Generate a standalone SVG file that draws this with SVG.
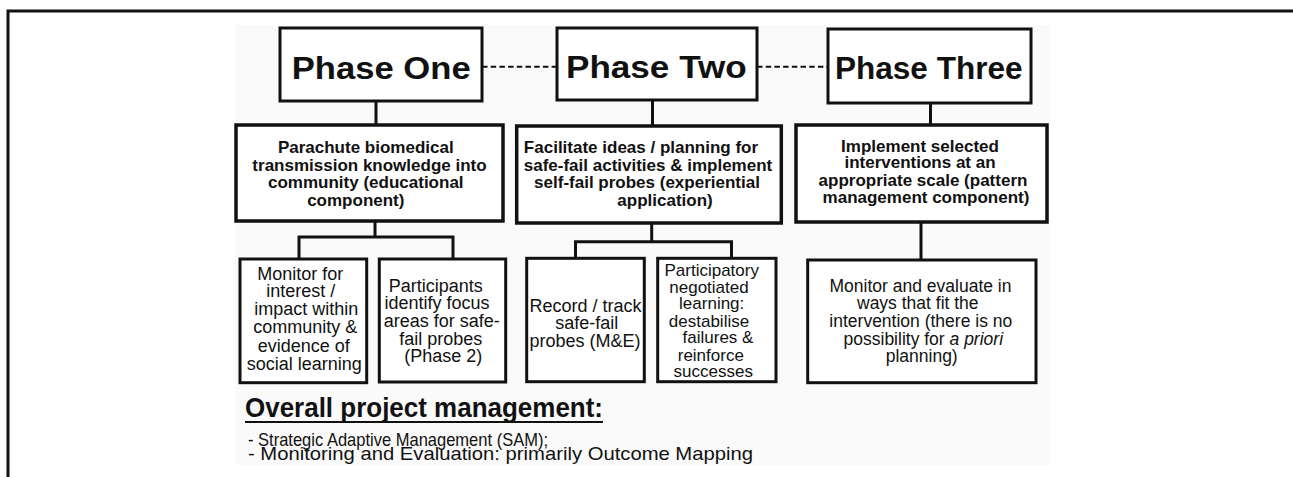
<svg xmlns="http://www.w3.org/2000/svg" width="1293" height="477" viewBox="0 0 1293 477">
<style>
.box{fill:#ffffff;stroke:#111;stroke-width:3}
.box2{fill:#ffffff;stroke:#111;stroke-width:3.5}
.ln{fill:none;stroke:#111;stroke-width:3}
.dash{fill:none;stroke:#111;stroke-width:2;stroke-dasharray:5.5 3.2}
.title{font-family:"Liberation Sans",Arial,sans-serif;font-weight:bold;font-size:32px;fill:#111}
.b{font-family:"Liberation Sans",Arial,sans-serif;font-weight:bold;font-size:17px;fill:#111;text-anchor:middle}
.r{font-family:"Liberation Sans",Arial,sans-serif;font-size:18px;fill:#111;text-anchor:middle}
.rs{font-family:"Liberation Sans",Arial,sans-serif;font-size:17px;fill:#111;text-anchor:middle}
.r2{font-family:"Liberation Sans",Arial,sans-serif;font-size:17.5px;fill:#111;text-anchor:middle}
.foot{font-family:"Liberation Sans",Arial,sans-serif;font-size:19px;fill:#111}
</style>
<rect x="0" y="0" width="1293" height="477" fill="#ffffff"/>
<rect x="235" y="25" width="815" height="440" fill="#fafafa"/>
<g id="frame">
<path class="ln" d="M8,477 V11 H1293" stroke-width="2.5"/>
</g>
<g id="connectors">
<line class="dash" x1="482" y1="66.7" x2="557" y2="66.7"/>
<line class="dash" x1="757" y1="66.7" x2="828" y2="66.7"/>
<line class="ln" x1="376" y1="101" x2="376" y2="125"/>
<line class="ln" x1="652.5" y1="100" x2="652.5" y2="126"/>
<line class="ln" x1="930.5" y1="103" x2="930.5" y2="125"/>
<path class="ln" d="M375,221 V237 M299,259 V237 H453 V259"/>
<path class="ln" d="M651.7,223 V241.7 M575.5,258 V241.7 H731.5 V258"/>
<line class="ln" x1="921" y1="222" x2="921" y2="260"/>
</g>
<g id="phase-one">
<rect class="box" x="280" y="28" width="202" height="73"/>
<text class="title" x="291.7" y="79" textLength="179" lengthAdjust="spacingAndGlyphs">Phase One</text>
</g>
<g id="phase-two">
<rect class="box" x="557" y="28" width="200" height="72"/>
<text class="title" x="566" y="77.5" textLength="180.7" lengthAdjust="spacingAndGlyphs">Phase Two</text>
</g>
<g id="phase-three">
<rect class="box" x="828" y="29" width="203" height="74"/>
<text class="title" x="835" y="78.5" textLength="187.5" lengthAdjust="spacingAndGlyphs">Phase Three</text>
</g>
<g id="educational">
<rect class="box2" x="236" y="125" width="267" height="96"/>
<text class="b" x="365.8" y="153.3">Parachute biomedical</text>
<text class="b" x="369.5" y="170.7">transmission knowledge into</text>
<text class="b" x="365.8" y="188.3">community (educational</text>
<text class="b" x="355.8" y="205.7">component)</text>
</g>
<g id="experiential">
<rect class="box2" x="516.7" y="126" width="264.6" height="97"/>
<text class="b" x="641" y="153.3">Facilitate ideas / planning for</text>
<text class="b" x="648" y="170.7">safe-fail activities &amp; implement</text>
<text class="b" x="647" y="188.3">self-fail probes (experiential</text>
<text class="b" x="665" y="205.7">application)</text>
</g>
<g id="pattern">
<rect class="box2" x="796" y="125" width="251" height="97"/>
<text class="b" x="920" y="151.7">Implement selected</text>
<text class="b" x="920" y="168.3">interventions at an</text>
<text class="b" x="923" y="186">appropriate scale (pattern</text>
<text class="b" x="926" y="203.3">management component)</text>
</g>
<g id="monitor-interest">
<rect class="box" x="240" y="259" width="126.7" height="123.7"/>
<text class="r" x="300.3" y="280">Monitor for</text>
<text class="r" x="300.8" y="297">interest /</text>
<text class="r" x="306.3" y="315">impact within</text>
<text class="r" x="305.3" y="333.3">community &amp;</text>
<text class="r" x="303.8" y="351.5">evidence of</text>
<text class="r" x="304.3" y="369.5">social learning</text>
</g>
<g id="focus-areas">
<rect class="box" x="379.3" y="259" width="126.4" height="123"/>
<text class="r" x="435.8" y="291.5">Participants</text>
<text class="r" x="437" y="309.3">identify focus</text>
<text class="r" x="441.7" y="327.2">areas for safe-</text>
<text class="r" x="440.8" y="345">fail probes</text>
<text class="r" x="443.3" y="362">(Phase 2)</text>
</g>
<g id="record-track">
<rect class="box" x="526.7" y="258.3" width="117.6" height="123.4"/>
<text class="r" x="585.5" y="311.7">Record / track</text>
<text class="r" x="586.7" y="329">safe-fail</text>
<text class="r" x="585" y="346.7">probes (M&amp;E)</text>
</g>
<g id="negotiated-learning">
<rect class="box" x="657.7" y="258.3" width="118.3" height="123.4"/>
<text class="rs" x="711.7" y="275.7">Participatory</text>
<text class="rs" x="709" y="292.7">negotiated</text>
<text class="rs" x="711.7" y="309.3">learning:</text>
<text class="rs" x="709" y="326.7">destabilise</text>
<text class="rs" x="718" y="343.3">failures &amp;</text>
<text class="rs" x="710.8" y="360.7">reinforce</text>
<text class="rs" x="713.3" y="377.3">successes</text>
</g>
<g id="monitor-evaluate">
<rect class="box" x="807.7" y="260" width="228.3" height="122.7"/>
<text class="r2" x="920.5" y="291.7">Monitor and evaluate in</text>
<text class="r2" x="917.8" y="309">ways that fit the</text>
<text class="r2" x="920.8" y="327.3">intervention (there is no</text>
<text class="r2" x="923.3" y="345">possibility for <tspan font-style="italic">a priori</tspan></text>
<text class="r2" x="921.7" y="361.7">planning)</text>
</g>
<g id="overall-management">
<text x="245" y="416.7" font-family="'Liberation Sans',Arial,sans-serif" font-weight="bold" font-size="27" fill="#111" textLength="358" lengthAdjust="spacingAndGlyphs">Overall project management:</text>
<line x1="245" y1="422" x2="603" y2="422" stroke="#111" stroke-width="2"/>
<text class="foot" x="248" y="445.5" textLength="300" lengthAdjust="spacingAndGlyphs">- Strategic Adaptive Management (SAM);</text>
<text class="foot" x="248" y="459.5" textLength="505" lengthAdjust="spacingAndGlyphs">- Monitoring and Evaluation: primarily Outcome Mapping</text>
</g>
</svg>
